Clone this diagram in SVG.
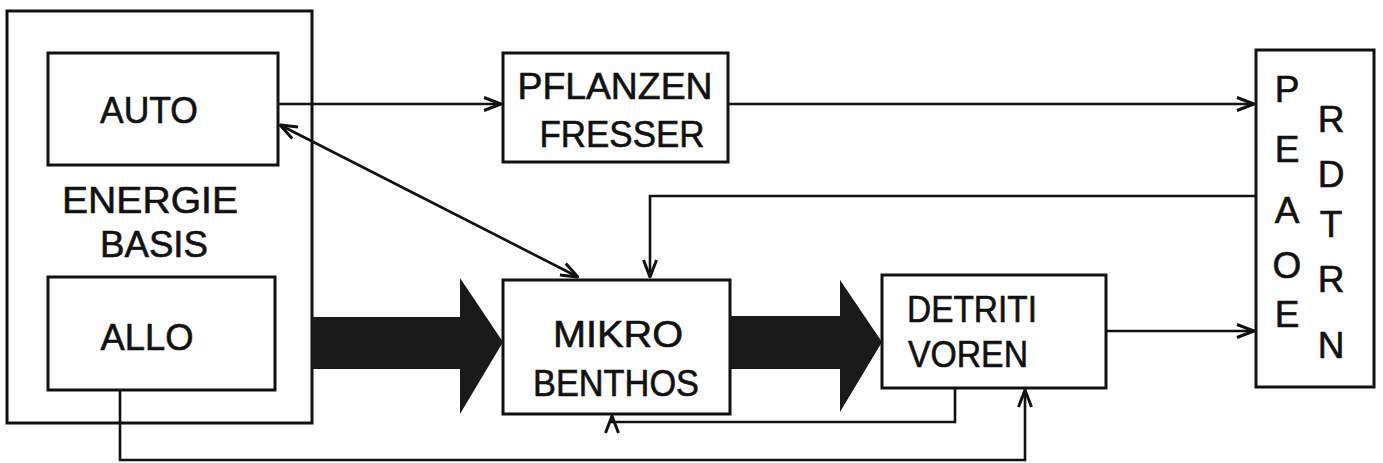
<svg xmlns="http://www.w3.org/2000/svg" width="1383" height="463" viewBox="0 0 1383 463">
<style>
.box{fill:none;stroke:#111;stroke-width:3}
.ln{fill:none;stroke:#111;stroke-width:2.6}
.t{font-family:"Liberation Sans",Arial,sans-serif;font-size:37px;fill:#111;stroke:#111;stroke-width:0.6;text-anchor:middle}
.big{fill:#1a1a1a}
</style>
<defs>
<marker id="ah" viewBox="0 0 20 16" refX="19" refY="8" markerWidth="20" markerHeight="16" markerUnits="userSpaceOnUse" orient="auto-start-reverse">
<path d="M2,1.5 L19,8 L2,14.5" fill="none" stroke="#111" stroke-width="3"/>
</marker>
</defs>
<rect width="1383" height="463" fill="#fff"/>
<g id="energie-basis">
<rect class="box" x="7" y="11" width="305" height="412"/>
<text class="t" x="150" y="213" textLength="176" lengthAdjust="spacingAndGlyphs">ENERGIE</text>
<text class="t" x="154" y="257" textLength="108" lengthAdjust="spacingAndGlyphs">BASIS</text>
</g>
<g id="auto">
<rect class="box" x="48" y="53" width="230" height="112"/>
<text class="t" x="149" y="123" textLength="98" lengthAdjust="spacingAndGlyphs">AUTO</text>
</g>
<g id="allo">
<rect class="box" x="48" y="277" width="227" height="113"/>
<text class="t" x="147" y="350" textLength="93" lengthAdjust="spacingAndGlyphs">ALLO</text>
</g>
<g id="pflanzenfresser">
<rect class="box" x="503" y="53" width="225" height="109"/>
<text class="t" x="615" y="99" textLength="195" lengthAdjust="spacingAndGlyphs">PFLANZEN</text>
<text class="t" x="622" y="147" textLength="165" lengthAdjust="spacingAndGlyphs">FRESSER</text>
</g>
<g id="mikrobenthos">
<rect class="box" x="503" y="280" width="227" height="134"/>
<text class="t" x="618" y="347" textLength="130" lengthAdjust="spacingAndGlyphs">MIKRO</text>
<text class="t" x="616" y="396" textLength="166" lengthAdjust="spacingAndGlyphs">BENTHOS</text>
</g>
<g id="detritivoren">
<rect class="box" x="882" y="275" width="224" height="113"/>
<text class="t" x="972" y="322" textLength="130" lengthAdjust="spacingAndGlyphs">DETRITI</text>
<text class="t" x="968" y="367" textLength="120" lengthAdjust="spacingAndGlyphs">VOREN</text>
</g>
<g id="predatoren">
<rect class="box" x="1256" y="50" width="118" height="337"/>
<text class="t" x="1287" y="102">P</text>
<text class="t" x="1287" y="162">E</text>
<text class="t" x="1287" y="223">A</text>
<text class="t" x="1287" y="278">O</text>
<text class="t" x="1287" y="327">E</text>
<text class="t" x="1331" y="132">R</text>
<text class="t" x="1331" y="187">D</text>
<text class="t" x="1331" y="237">T</text>
<text class="t" x="1331" y="292">R</text>
<text class="t" x="1331" y="358">N</text>
</g>
<g id="connectors">
<path class="big" d="M312,317 H460 V278 L503,342 L460,414 V369 H312 Z"/>
<path class="big" d="M730,316 H840 V280 L882,342 L840,412 V369 H730 Z"/>
<path class="ln" d="M278,104 H501" marker-end="url(#ah)"/>
<path class="ln" d="M728,104 H1254" marker-end="url(#ah)"/>
<path class="ln" d="M280,125 L578,277" marker-start="url(#ah)" marker-end="url(#ah)"/>
<path class="ln" d="M1256,196 H650 V277" marker-end="url(#ah)"/>
<path class="ln" d="M1106,331 H1254" marker-end="url(#ah)"/>
<path class="ln" d="M955,388 V422 H612 V416" marker-end="url(#ah)"/>
<path class="ln" d="M120,390 V460 H1025 V390" marker-end="url(#ah)"/>
</g>
</svg>
